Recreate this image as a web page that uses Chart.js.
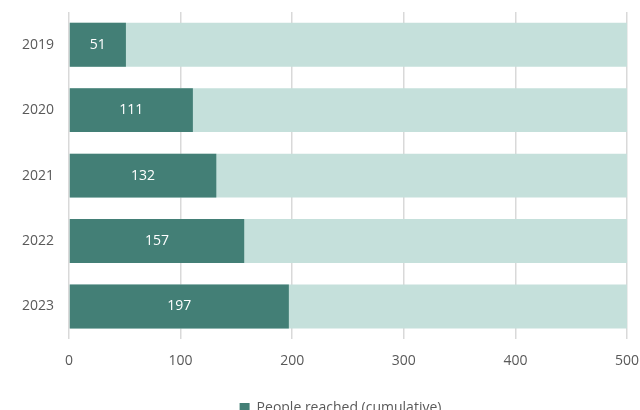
<!DOCTYPE html>
<html>
<head>
<meta charset="utf-8">
<script src="https://cdn.jsdelivr.net/npm/chart.js@4.4.1/dist/chart.umd.min.js"></script>
<style>
  html, body { margin: 0; padding: 0; background: #fff; overflow: hidden; }
  #wrap { width: 640px; height: 425px; }
</style>
</head>
<body>
<div id="wrap"><canvas id="peopleChart"></canvas></div>
<script>
const years = ['2019', '2020', '2021', '2022', '2023'];
const reached = [51, 111, 132, 157, 197];
const goal = [500, 500, 500, 500, 500];
const xTicks = [0, 100, 200, 300, 400, 500];

const darkGreen = 'rgb(67,127,118)';
const paleGreen = 'rgb(197,224,219)';
const labelFont = { family: 'Open Sans', size: 14 };

// writes the value in the middle of each dark bar
const barLabels = {
  id: 'barLabels',
  afterLayout(chart) {
    // legend sits centred under the plot area, not the whole canvas
    chart.legend.left += 27;
    chart.legend.right += 27;
  },
  afterDatasetsDraw(chart) {
    const ctx = chart.ctx;
    const meta = chart.getDatasetMeta(0);
    ctx.save();
    ctx.fillStyle = '#ffffff';
    ctx.font = '14px "Open Sans"';
    ctx.textAlign = 'center';
    ctx.textBaseline = 'middle';
    meta.data.forEach((bar, i) => {
      ctx.fillText(String(reached[i]), (bar.x + bar.base) / 2, bar.y);
    });
    ctx.restore();
  }
};

const data = {
  labels: years,
  datasets: [
    {
      label: 'People reached (cumulative)',
      data: reached,
      backgroundColor: darkGreen,
      grouped: false,
      categoryPercentage: 0.67,
      barPercentage: 1
    },
    {
      label: 'Goal',
      data: goal,
      backgroundColor: paleGreen,
      grouped: false,
      categoryPercentage: 0.67,
      barPercentage: 1
    }
  ]
};

const config = {
  type: 'bar',
  data: data,
  plugins: [barLabels],
  options: {
    indexAxis: 'y',
    responsive: true,
    maintainAspectRatio: false,
    animation: false,
    layout: { padding: { top: 12, left: 0, right: 13, bottom: 0 } },
    scales: {
      x: {
        min: 0,
        max: 500,
        afterBuildTicks: (axis) => { axis.ticks = xTicks.map(v => ({ value: v })); },
        afterFit: (axis) => { axis.paddingRight = 0; axis.paddingLeft = 0; },
        grid: { color: '#d9d9d9', lineWidth: 1.5, drawTicks: false },
        border: { display: false },
        ticks: { color: '#595959', font: labelFont, padding: 13 }
      },
      y: {
        afterFit: (axis) => { axis.paddingTop = 0; axis.paddingBottom = 0; axis.width = 69; },
        grid: { display: false, drawTicks: false },
        border: { display: false },
        ticks: { color: '#595959', font: labelFont, padding: 15 }
      }
    },
    plugins: {
      tooltip: { enabled: false },
      legend: {
        position: 'bottom',
        labels: {
          color: '#595959',
          font: labelFont,
          boxWidth: 10,
          boxHeight: 10,
          padding: 19,
          filter: (item) => item.datasetIndex === 0
        }
      }
    }
  }
};

var ctx = document.getElementById('peopleChart').getContext('2d');
new Chart(ctx, config);
</script>
</body>
</html>
